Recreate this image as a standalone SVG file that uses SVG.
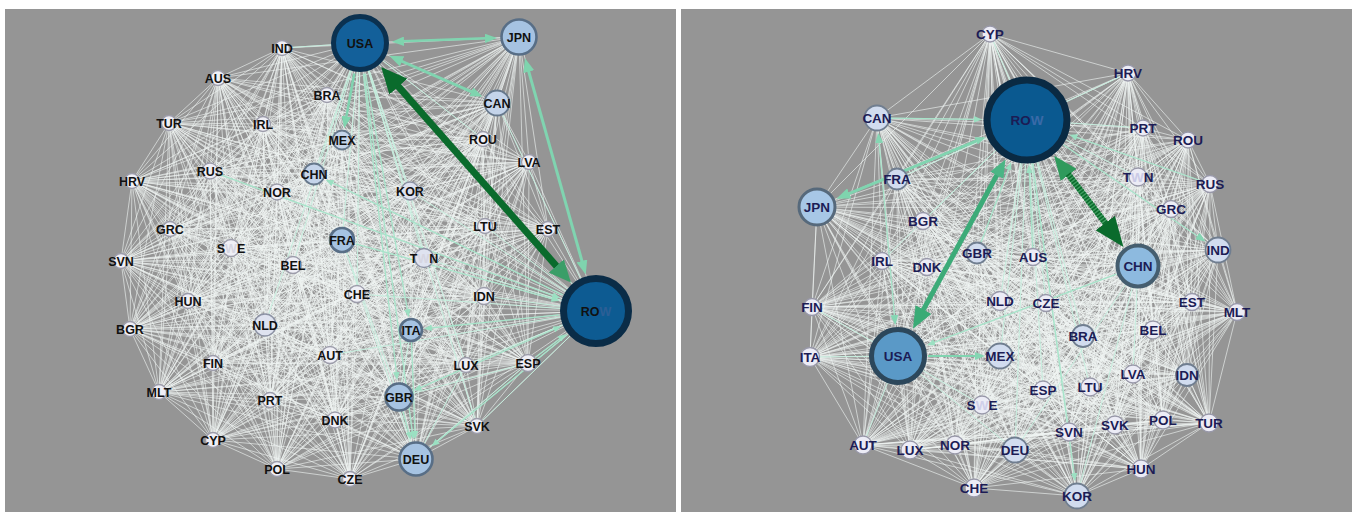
<svg xmlns="http://www.w3.org/2000/svg" width="1352" height="512" viewBox="0 0 1352 512">
<style>
.bg{fill:#959595}
.mesh{fill:none;stroke:#f1f6f4;stroke-width:.62;stroke-linejoin:round;stroke-linecap:round}
.tint{fill:none;stroke:#c2eedc;stroke-width:.9}
.mint{fill:none;stroke:#80d4b0;stroke-linecap:butt}
.thin{fill:none;stroke:#a6e3c9;stroke-width:1.3}
.lp text{font:700 12.5px "Liberation Sans",Arial,sans-serif;fill:#111;text-anchor:middle}
.rp text{font:700 13.5px "Liberation Sans",Arial,sans-serif;fill:#1c1c55;text-anchor:middle}
.s circle{fill:#efeff6;stroke:#9c9caa;stroke-width:1.3}
.l circle{fill:#dfe3f0;stroke:#8c92a4;stroke-width:1.4}
.m circle{fill:#c4d4ea;stroke:#66788c;stroke-width:1.8}
.b circle{fill:#a6c3e2;stroke:#586e86;stroke-width:2.6}
.rs circle{fill:#ececf6;stroke:#9898a9;stroke-width:1.3}
.rm circle{fill:#d1dcef;stroke:#707e90;stroke-width:1.8}
</style>
<defs>
<marker id="ah-dg" markerUnits="userSpaceOnUse" viewBox="0 0 26 24" markerWidth="26" markerHeight="24" refX="1" refY="12" orient="auto-start-reverse"><path d="M0 0L26 12 0 24z" fill="#0a6b2c"/></marker>
<marker id="ah-g" markerUnits="userSpaceOnUse" viewBox="0 0 22 20" markerWidth="22" markerHeight="20" refX="1" refY="10" orient="auto-start-reverse"><path d="M0 0L22 10 0 20z" fill="#3a9e68"/></marker>
<marker id="ah-gr" markerUnits="userSpaceOnUse" viewBox="0 0 22 18" markerWidth="22" markerHeight="18" refX="1" refY="9" orient="auto-start-reverse"><path d="M0 0L22 9 0 18z" fill="#3aab76"/></marker>
<marker id="ah-g2" markerUnits="userSpaceOnUse" viewBox="0 0 18 15" markerWidth="18" markerHeight="15" refX="1" refY="7.5" orient="auto-start-reverse"><path d="M0 0L18 7.5 0 15z" fill="#4bb585"/></marker>
<marker id="ah-dg2" markerUnits="userSpaceOnUse" viewBox="0 0 30 24" markerWidth="30" markerHeight="24" refX="1" refY="12" orient="auto-start-reverse"><path d="M0 0L30 12 0 24z" fill="#0a6b2c"/></marker>
<marker id="ah-g3" markerUnits="userSpaceOnUse" viewBox="0 0 24 20" markerWidth="24" markerHeight="20" refX="1" refY="10" orient="auto-start-reverse"><path d="M0 0L24 10 0 20z" fill="#2f9a5c"/></marker>
<marker id="ah-m14" markerUnits="userSpaceOnUse" viewBox="0 0 14 11" markerWidth="14" markerHeight="11" refX="1" refY="5.5" orient="auto-start-reverse"><path d="M0 0L14 5.5 0 11z" fill="#7fd4ae"/></marker>
<marker id="ah-m12" markerUnits="userSpaceOnUse" viewBox="0 0 12 9.5" markerWidth="12" markerHeight="9.5" refX="1" refY="4.75" orient="auto-start-reverse"><path d="M0 0L12 4.75 0 9.5z" fill="#7fd4ae"/></marker>
<marker id="ah-m10" markerUnits="userSpaceOnUse" viewBox="0 0 10 8" markerWidth="10" markerHeight="8" refX="1" refY="4" orient="auto-start-reverse"><path d="M0 0L10 4 0 8z" fill="#85d6b3"/></marker>
<marker id="ah-m8" markerUnits="userSpaceOnUse" viewBox="0 0 8 6.5" markerWidth="8" markerHeight="6.5" refX="1" refY="3.25" orient="auto-start-reverse"><path d="M0 0L8 3.25 0 6.5z" fill="#9be0c2"/></marker>
</defs>

<rect width="1352" height="512" fill="#fff"/>
<rect class="bg" x="5" y="9" width="671" height="503"/>
<rect class="bg" x="681" y="9" width="671" height="503"/>

<!-- left network -->
<g id="left-panel" class="lp">
<g id="left-connectors">
<path class="mesh" d="M282 48, 218 78, 548 229, 327 95, 485 226, 169 123, 410 191, 263 124, 529 162, 342 140, 483 139, 210 171, 497 103, 132 181, 519 37, 314 174, 360 43, 277 192, 596 311, 170 229, 424 258, 231 248, 484 296, 342 240, 357 294, 121 261, 411 330, 293 265, 528 363, 188 301, 466 365, 130 329, 477 426, 265 325, 399 397, 330 355, 416 459, 213 363, 350 479, 159 392, 277 469, 270 400, 213 440, 335 420
M218 78, 327 95, 282 48, 169 123, 548 229, 263 124, 485 226, 342 140, 410 191, 210 171, 529 162, 132 181, 483 139, 314 174, 497 103, 277 192, 519 37, 170 229, 360 43, 231 248, 596 311, 342 240, 424 258, 121 261, 484 296, 293 265, 357 294, 188 301, 411 330, 130 329, 528 363, 265 325, 466 365, 330 355, 477 426, 213 363, 399 397, 159 392, 416 459, 270 400, 350 479, 335 420, 277 469, 213 440
M327 95, 169 123, 218 78, 263 124, 282 48, 342 140, 548 229, 210 171, 485 226, 132 181, 410 191, 314 174, 529 162, 277 192, 483 139, 170 229, 497 103, 231 248, 519 37, 342 240, 360 43, 121 261, 596 311, 293 265, 424 258, 188 301, 484 296, 130 329, 357 294, 265 325, 411 330, 330 355, 528 363, 213 363, 466 365, 159 392, 477 426, 270 400, 399 397, 335 420, 416 459, 213 440, 350 479, 277 469
M169 123, 263 124, 327 95, 342 140, 218 78, 210 171, 282 48, 132 181, 548 229, 314 174, 485 226, 277 192, 410 191, 170 229, 529 162, 231 248, 483 139, 342 240, 497 103, 121 261, 519 37, 293 265, 360 43, 188 301, 596 311, 130 329, 424 258, 265 325, 484 296, 330 355, 357 294, 213 363, 411 330, 159 392, 528 363, 270 400, 466 365, 335 420, 477 426, 213 440, 399 397, 277 469, 416 459, 350 479
M263 124, 342 140, 169 123, 210 171, 327 95, 132 181, 218 78, 314 174, 282 48, 277 192, 548 229, 170 229, 485 226, 231 248, 410 191, 342 240, 529 162, 121 261, 483 139, 293 265, 497 103, 188 301, 519 37, 130 329, 360 43, 265 325, 596 311, 330 355, 424 258, 213 363, 484 296, 159 392, 357 294, 270 400, 411 330, 335 420, 528 363, 213 440, 466 365, 277 469, 477 426, 350 479, 399 397, 416 459
M342 140, 210 171, 263 124, 132 181, 169 123, 314 174, 327 95, 277 192, 218 78, 170 229, 282 48, 231 248, 548 229, 342 240, 485 226, 121 261, 410 191, 293 265, 529 162, 188 301, 483 139, 130 329, 497 103, 265 325, 519 37, 330 355, 360 43, 213 363, 596 311, 159 392, 424 258, 270 400, 484 296, 335 420, 357 294, 213 440, 411 330, 277 469, 528 363, 350 479, 466 365, 416 459, 477 426, 399 397
M210 171, 132 181, 342 140, 314 174, 263 124, 277 192, 169 123, 170 229, 327 95, 231 248, 218 78, 342 240, 282 48, 121 261, 548 229, 293 265, 485 226, 188 301, 410 191, 130 329, 529 162, 265 325, 483 139, 330 355, 497 103, 213 363, 519 37, 159 392, 360 43, 270 400, 596 311, 335 420, 424 258, 213 440, 484 296, 277 469, 357 294, 350 479, 411 330, 416 459, 528 363, 399 397, 466 365, 477 426
M132 181, 314 174, 210 171, 277 192, 342 140, 170 229, 263 124, 231 248, 169 123, 342 240, 327 95, 121 261, 218 78, 293 265, 282 48, 188 301, 548 229, 130 329, 485 226, 265 325, 410 191, 330 355, 529 162, 213 363, 483 139, 159 392, 497 103, 270 400, 519 37, 335 420, 360 43, 213 440, 596 311, 277 469, 424 258, 350 479, 484 296, 416 459, 357 294, 399 397, 411 330, 477 426, 528 363, 466 365
M314 174, 277 192, 132 181, 170 229, 210 171, 231 248, 342 140, 342 240, 263 124, 121 261, 169 123, 293 265, 327 95, 188 301, 218 78, 130 329, 282 48, 265 325, 548 229, 330 355, 485 226, 213 363, 410 191, 159 392, 529 162, 270 400, 483 139, 335 420, 497 103, 213 440, 519 37, 277 469, 360 43, 350 479, 596 311, 416 459, 424 258, 399 397, 484 296, 477 426, 357 294, 466 365, 411 330, 528 363
M277 192, 170 229, 314 174, 231 248, 132 181, 342 240, 210 171, 121 261, 342 140, 293 265, 263 124, 188 301, 169 123, 130 329, 327 95, 265 325, 218 78, 330 355, 282 48, 213 363, 548 229, 159 392, 485 226, 270 400, 410 191, 335 420, 529 162, 213 440, 483 139, 277 469, 497 103, 350 479, 519 37, 416 459, 360 43, 399 397, 596 311, 477 426, 424 258, 466 365, 484 296, 528 363, 357 294, 411 330
M170 229, 231 248, 277 192, 342 240, 314 174, 121 261, 132 181, 293 265, 210 171, 188 301, 342 140, 130 329, 263 124, 265 325, 169 123, 330 355, 327 95, 213 363, 218 78, 159 392, 282 48, 270 400, 548 229, 335 420, 485 226, 213 440, 410 191, 277 469, 529 162, 350 479, 483 139, 416 459, 497 103, 399 397, 519 37, 477 426, 360 43, 466 365, 596 311, 528 363, 424 258, 411 330, 484 296, 357 294
M231 248, 342 240, 170 229, 121 261, 277 192, 293 265, 314 174, 188 301, 132 181, 130 329, 210 171, 265 325, 342 140, 330 355, 263 124, 213 363, 169 123, 159 392, 327 95, 270 400, 218 78, 335 420, 282 48, 213 440, 548 229, 277 469, 485 226, 350 479, 410 191, 416 459, 529 162, 399 397, 483 139, 477 426, 497 103, 466 365, 519 37, 528 363, 360 43, 411 330, 596 311, 357 294, 424 258, 484 296
M342 240, 121 261, 231 248, 293 265, 170 229, 188 301, 277 192, 130 329, 314 174, 265 325, 132 181, 330 355, 210 171, 213 363, 342 140, 159 392, 263 124, 270 400, 169 123, 335 420, 327 95, 213 440, 218 78, 277 469, 282 48, 350 479, 548 229, 416 459, 485 226, 399 397, 410 191, 477 426, 529 162, 466 365, 483 139, 528 363, 497 103, 411 330, 519 37, 357 294, 360 43, 484 296, 596 311, 424 258
M121 261, 293 265, 342 240, 188 301, 231 248, 130 329, 170 229, 265 325, 277 192, 330 355, 314 174, 213 363, 132 181, 159 392, 210 171, 270 400, 342 140, 335 420, 263 124, 213 440, 169 123, 277 469, 327 95, 350 479, 218 78, 416 459, 282 48, 399 397, 548 229, 477 426, 485 226, 466 365, 410 191, 528 363, 529 162, 411 330, 483 139, 357 294, 497 103, 484 296, 519 37, 424 258, 360 43, 596 311
M293 265, 188 301, 121 261, 130 329, 342 240, 265 325, 231 248, 330 355, 170 229, 213 363, 277 192, 159 392, 314 174, 270 400, 132 181, 335 420, 210 171, 213 440, 342 140, 277 469, 263 124, 350 479, 169 123, 416 459, 327 95, 399 397, 218 78, 477 426, 282 48, 466 365, 548 229, 528 363, 485 226, 411 330, 410 191, 357 294, 529 162, 484 296, 483 139, 424 258, 497 103, 596 311, 519 37, 360 43
M188 301, 130 329, 293 265, 265 325, 121 261, 330 355, 342 240, 213 363, 231 248, 159 392, 170 229, 270 400, 277 192, 335 420, 314 174, 213 440, 132 181, 277 469, 210 171, 350 479, 342 140, 416 459, 263 124, 399 397, 169 123, 477 426, 327 95, 466 365, 218 78, 528 363, 282 48, 411 330, 548 229, 357 294, 485 226, 484 296, 410 191, 424 258, 529 162, 596 311, 483 139, 360 43, 497 103, 519 37
M130 329, 265 325, 188 301, 330 355, 293 265, 213 363, 121 261, 159 392, 342 240, 270 400, 231 248, 335 420, 170 229, 213 440, 277 192, 277 469, 314 174, 350 479, 132 181, 416 459, 210 171, 399 397, 342 140, 477 426, 263 124, 466 365, 169 123, 528 363, 327 95, 411 330, 218 78, 357 294, 282 48, 484 296, 548 229, 424 258, 485 226, 596 311, 410 191, 360 43, 529 162, 519 37, 483 139, 497 103
M265 325, 330 355, 130 329, 213 363, 188 301, 159 392, 293 265, 270 400, 121 261, 335 420, 342 240, 213 440, 231 248, 277 469, 170 229, 350 479, 277 192, 416 459, 314 174, 399 397, 132 181, 477 426, 210 171, 466 365, 342 140, 528 363, 263 124, 411 330, 169 123, 357 294, 327 95, 484 296, 218 78, 424 258, 282 48, 596 311, 548 229, 360 43, 485 226, 519 37, 410 191, 497 103, 529 162, 483 139
M330 355, 213 363, 265 325, 159 392, 130 329, 270 400, 188 301, 335 420, 293 265, 213 440, 121 261, 277 469, 342 240, 350 479, 231 248, 416 459, 170 229, 399 397, 277 192, 477 426, 314 174, 466 365, 132 181, 528 363, 210 171, 411 330, 342 140, 357 294, 263 124, 484 296, 169 123, 424 258, 327 95, 596 311, 218 78, 360 43, 282 48, 519 37, 548 229, 497 103, 485 226, 483 139, 410 191, 529 162
M213 363, 159 392, 330 355, 270 400, 265 325, 335 420, 130 329, 213 440, 188 301, 277 469, 293 265, 350 479, 121 261, 416 459, 342 240, 399 397, 231 248, 477 426, 170 229, 466 365, 277 192, 528 363, 314 174, 411 330, 132 181, 357 294, 210 171, 484 296, 342 140, 424 258, 263 124, 596 311, 169 123, 360 43, 327 95, 519 37, 218 78, 497 103, 282 48, 483 139, 548 229, 529 162, 485 226, 410 191
M159 392, 270 400, 213 363, 335 420, 330 355, 213 440, 265 325, 277 469, 130 329, 350 479, 188 301, 416 459, 293 265, 399 397, 121 261, 477 426, 342 240, 466 365, 231 248, 528 363, 170 229, 411 330, 277 192, 357 294, 314 174, 484 296, 132 181, 424 258, 210 171, 596 311, 342 140, 360 43, 263 124, 519 37, 169 123, 497 103, 327 95, 483 139, 218 78, 529 162, 282 48, 410 191, 548 229, 485 226
M270 400, 335 420, 159 392, 213 440, 213 363, 277 469, 330 355, 350 479, 265 325, 416 459, 130 329, 399 397, 188 301, 477 426, 293 265, 466 365, 121 261, 528 363, 342 240, 411 330, 231 248, 357 294, 170 229, 484 296, 277 192, 424 258, 314 174, 596 311, 132 181, 360 43, 210 171, 519 37, 342 140, 497 103, 263 124, 483 139, 169 123, 529 162, 327 95, 410 191, 218 78, 485 226, 282 48, 548 229"/>
<path class="tint" d="M360 43L265 325M360 43L357 294M360 43L466 365M360 43L477 426M360 43L596 311M360 43L342 240M360 43L410 191M360 43L314 174M360 43L424 258M416 459L528 363M416 459L466 365M399 397L528 363M342 240L399 397M342 240L416 459M411 330L399 397M596 311L424 258M596 311L484 296M596 311L485 226M596 311L410 191M596 311L357 294M596 311L330 355M596 311L477 426M596 311L466 365M596 311L497 103M282 48L360 43M360 43L483 139M360 43L293 265"/>
<!-- thin highlighted flows -->
<path class="thin" marker-end="url(#ah-m8)" d="M562.7 294.8L332 182.7"/>
<path class="thin" marker-end="url(#ah-m8)" d="M559.2 314.8L430.9 328"/>
<path class="thin" marker-start="url(#ah-m8)" marker-end="url(#ah-m8)" d="M420 387.8L554.8 329"/>
<path class="thin" marker-end="url(#ah-m8)" d="M535.1 357.5L560.2 338.4"/>
<path class="thin" marker-end="url(#ah-m8)" d="M567.4 334.5L436.9 441.8"/>
<path class="thin" marker-end="url(#ah-m8)" d="M364.1 73.7L412.4 432.3"/>
<path class="thin" marker-end="url(#ah-m8)" d="M403 411.5L408.9 433"/>
<path class="thin" marker-end="url(#ah-m8)" d="M411.5 342L415 432"/>
<path class="thin" marker-end="url(#ah-m8)" d="M363.4 73.8L396.4 373.1"/>
<path class="thin" marker-end="url(#ah-m8)" d="M365.4 73.5L407.5 310.3"/>
<path class="thin" marker-end="url(#ah-m8)" d="M355.5 243.8L552.7 298.8"/>
<path class="thin" marker-end="url(#ah-m8)" d="M218.5 174.1L553.7 295.7"/>
<!-- main flows -->
<path class="mint" stroke-width="2.5" marker-end="url(#ah-m12)" d="M354.3 73.5L346.2 117.4"/>
<path class="mint" stroke-width="2.5" marker-start="url(#ah-m12)" marker-end="url(#ah-m12)" d="M403 41.3L486 38.3"/>
<path class="mint" stroke-width="3" marker-start="url(#ah-m14)" marker-end="url(#ah-m12)" d="M401.2 61L472.3 92.2"/>
<path class="mint" stroke-width="3" marker-start="url(#ah-m14)" marker-end="url(#ah-m14)" d="M528.5 70.7L582.2 261.9"/>
<path fill="none" stroke="#0a6b2c" stroke-width="7" marker-start="url(#ah-dg)" marker-end="url(#ah-g)" d="M397.7 85.8L557 266.7"/>
</g>

<g id="l-ind" class="s"><circle cx="282" cy="48" r="7.5"/><text x="282" y="52.5">IND</text></g>
<g id="l-aus" class="s"><circle cx="218" cy="78" r="7.5"/><text x="218" y="82.5">AUS</text></g>
<g id="l-bra" class="s"><circle cx="327" cy="95" r="7.5"/><text x="327" y="99.5">BRA</text></g>
<g id="l-tur" class="s"><circle cx="169" cy="123" r="7.5"/><text x="169" y="127.5">TUR</text></g>
<g id="l-irl" class="s"><circle cx="263" cy="124" r="7.5"/><text x="263" y="128.5">IRL</text></g>
<g id="l-mex" class="m"><circle cx="342" cy="140" r="9.5"/><text x="342" y="144.5">MEX</text></g>
<g id="l-rus" class="s"><circle cx="210" cy="171" r="8"/><text x="210" y="175.5">RUS</text></g>
<g id="l-hrv" class="s"><circle cx="132" cy="181" r="7.5"/><text x="132" y="185.5">HRV</text></g>
<g id="l-chn" class="m"><circle cx="314" cy="174" r="10.5" stroke-width="2"/><text x="314" y="178.5">CHN</text></g>
<g id="l-nor" class="s"><circle cx="277" cy="192" r="8"/><text x="277" y="196.5">NOR</text></g>
<g id="l-grc" class="s"><circle cx="170" cy="229" r="7.5"/><text x="170" y="233.5">GRC</text></g>
<g id="l-swe" class="s"><circle cx="231" cy="248" r="8.5"/><text x="231" y="252.5">S<tspan fill="#d6d6e2">W</tspan>E</text></g>
<g id="l-fra" class="b"><circle cx="342" cy="240" r="12"/><text x="342" y="244.5">FRA</text></g>
<g id="l-svn" class="s"><circle cx="121" cy="261" r="7.5"/><text x="121" y="265.5">SVN</text></g>
<g id="l-bel" class="s"><circle cx="293" cy="265" r="8.5"/><text x="293" y="269.5">BEL</text></g>
<g id="l-hun" class="s"><circle cx="188" cy="301" r="7.5"/><text x="188" y="305.5">HUN</text></g>
<g id="l-bgr" class="s"><circle cx="130" cy="329" r="7.5"/><text x="130" y="333.5">BGR</text></g>
<g id="l-nld" class="l"><circle cx="265" cy="325" r="11"/><text x="265" y="329.5">NLD</text></g>
<g id="l-aut" class="s"><circle cx="330" cy="355" r="8.5"/><text x="330" y="359.5">AUT</text></g>
<g id="l-fin" class="s"><circle cx="213" cy="363" r="7.5"/><text x="213" y="367.5">FIN</text></g>
<g id="l-mlt" class="s"><circle cx="159" cy="392" r="7.5"/><text x="159" y="396.5">MLT</text></g>
<g id="l-prt" class="s"><circle cx="270" cy="400" r="7.5"/><text x="270" y="404.5">PRT</text></g>
<g id="l-dnk" class="s"><circle cx="335" cy="420" r="8"/><text x="335" y="424.5">DNK</text></g>
<g id="l-cyp" class="s"><circle cx="213" cy="440" r="7.5"/><text x="213" y="444.5">CYP</text></g>
<g id="l-pol" class="s"><circle cx="277" cy="469" r="7.5"/><text x="277" y="473.5">POL</text></g>
<g id="l-cze" class="s"><circle cx="350" cy="479" r="7.5"/><text x="350" y="483.5">CZE</text></g>
<g id="l-deu" class="b"><circle cx="416" cy="459" r="16.5" stroke-width="3"/><text x="416" y="463.5">DEU</text></g>
<g id="l-gbr" class="b"><circle cx="399" cy="397" r="13.5" stroke-width="3"/><text x="399" y="401.5">GBR</text></g>
<g id="l-svk" class="s"><circle cx="477" cy="426" r="7.5"/><text x="477" y="430.5">SVK</text></g>
<g id="l-lux" class="s"><circle cx="466" cy="365" r="7.5"/><text x="466" y="369.5">LUX</text></g>
<g id="l-esp" class="s"><circle cx="528" cy="363" r="8.5"/><text x="528" y="367.5">ESP</text></g>
<g id="l-ita" class="b"><circle cx="411" cy="330" r="11"/><text x="411" y="334.5">ITA</text></g>
<g id="l-che" class="s"><circle cx="357" cy="294" r="8.5"/><text x="357" y="298.5">CHE</text></g>
<g id="l-idn" class="s"><circle cx="484" cy="296" r="8.5"/><text x="484" y="300.5">IDN</text></g>
<g id="l-twn" class="l"><circle cx="424" cy="258" r="9.5"/><text x="424" y="262.5">T<tspan fill="#d6d6e2">W</tspan>N</text></g>
<g id="l-row"><circle cx="596" cy="311" r="32.5" fill="#0d5b92" stroke="#0a2c47" stroke-width="7"/><text x="596" y="315.5">RO<tspan fill="#2b5f96">W</tspan></text></g>
<g id="l-usa"><circle cx="360" cy="43" r="26.5" fill="#13609a" stroke="#0b3150" stroke-width="5"/><text x="360" y="47.5">USA</text></g>
<g id="l-jpn" class="b"><circle cx="519" cy="37" r="17.5" stroke-width="3"/><text x="519" y="41.5">JPN</text></g>
<g id="l-can" class="m"><circle cx="497" cy="103" r="12.5" stroke-width="2"/><text x="497" y="107.5">CAN</text></g>
<g id="l-rou" class="s"><circle cx="483" cy="139" r="7.5"/><text x="483" y="143.5">ROU</text></g>
<g id="l-lva" class="s"><circle cx="529" cy="162" r="7.5"/><text x="529" y="166.5">LVA</text></g>
<g id="l-kor" class="l"><circle cx="410" cy="191" r="9"/><text x="410" y="195.5">KOR</text></g>
<g id="l-ltu" class="s"><circle cx="485" cy="226" r="7.5"/><text x="485" y="230.5">LTU</text></g>
<g id="l-est" class="s"><circle cx="548" cy="229" r="7.5"/><text x="548" y="233.5">EST</text></g>
</g>

<!-- right network -->
<g id="right-panel" class="rp">
<g id="right-connectors">
<path class="mesh" d="M990 34, 877 118, 1077 496, 1027 120, 1141 469, 1128 73, 974 488, 1143 128, 1015 450, 1188 140, 955 445, 1138 177, 910 450, 1210 184, 863 445, 1171 209, 1069 432, 1218 250, 1115 425, 897 179, 1209 423, 817 207, 1163 420, 923 221, 982 405, 977 253, 1090 387, 882 261, 1043 390, 927 267, 1187 375, 1138 266, 1133 374, 1033 257, 1000 356, 812 307, 898 356, 1000 301, 810 357, 1046 303, 1153 330, 1192 302, 1083 336, 1237 312
M877 118, 1027 120, 990 34, 1128 73, 1077 496, 1143 128, 1141 469, 1188 140, 974 488, 1138 177, 1015 450, 1210 184, 955 445, 1171 209, 910 450, 1218 250, 863 445, 897 179, 1069 432, 817 207, 1115 425, 923 221, 1209 423, 977 253, 1163 420, 882 261, 982 405, 927 267, 1090 387, 1138 266, 1043 390, 1033 257, 1187 375, 812 307, 1133 374, 1000 301, 1000 356, 1046 303, 898 356, 1192 302, 810 357, 1237 312, 1153 330, 1083 336
M1027 120, 1128 73, 877 118, 1143 128, 990 34, 1188 140, 1077 496, 1138 177, 1141 469, 1210 184, 974 488, 1171 209, 1015 450, 1218 250, 955 445, 897 179, 910 450, 817 207, 863 445, 923 221, 1069 432, 977 253, 1115 425, 882 261, 1209 423, 927 267, 1163 420, 1138 266, 982 405, 1033 257, 1090 387, 812 307, 1043 390, 1000 301, 1187 375, 1046 303, 1133 374, 1192 302, 1000 356, 1237 312, 898 356, 1083 336, 810 357, 1153 330
M1128 73, 1143 128, 1027 120, 1188 140, 877 118, 1138 177, 990 34, 1210 184, 1077 496, 1171 209, 1141 469, 1218 250, 974 488, 897 179, 1015 450, 817 207, 955 445, 923 221, 910 450, 977 253, 863 445, 882 261, 1069 432, 927 267, 1115 425, 1138 266, 1209 423, 1033 257, 1163 420, 812 307, 982 405, 1000 301, 1090 387, 1046 303, 1043 390, 1192 302, 1187 375, 1237 312, 1133 374, 1083 336, 1000 356, 1153 330, 898 356, 810 357
M1143 128, 1188 140, 1128 73, 1138 177, 1027 120, 1210 184, 877 118, 1171 209, 990 34, 1218 250, 1077 496, 897 179, 1141 469, 817 207, 974 488, 923 221, 1015 450, 977 253, 955 445, 882 261, 910 450, 927 267, 863 445, 1138 266, 1069 432, 1033 257, 1115 425, 812 307, 1209 423, 1000 301, 1163 420, 1046 303, 982 405, 1192 302, 1090 387, 1237 312, 1043 390, 1083 336, 1187 375, 1153 330, 1133 374, 810 357, 1000 356, 898 356
M1188 140, 1138 177, 1143 128, 1210 184, 1128 73, 1171 209, 1027 120, 1218 250, 877 118, 897 179, 990 34, 817 207, 1077 496, 923 221, 1141 469, 977 253, 974 488, 882 261, 1015 450, 927 267, 955 445, 1138 266, 910 450, 1033 257, 863 445, 812 307, 1069 432, 1000 301, 1115 425, 1046 303, 1209 423, 1192 302, 1163 420, 1237 312, 982 405, 1083 336, 1090 387, 1153 330, 1043 390, 810 357, 1187 375, 898 356, 1133 374, 1000 356
M1138 177, 1210 184, 1188 140, 1171 209, 1143 128, 1218 250, 1128 73, 897 179, 1027 120, 817 207, 877 118, 923 221, 990 34, 977 253, 1077 496, 882 261, 1141 469, 927 267, 974 488, 1138 266, 1015 450, 1033 257, 955 445, 812 307, 910 450, 1000 301, 863 445, 1046 303, 1069 432, 1192 302, 1115 425, 1237 312, 1209 423, 1083 336, 1163 420, 1153 330, 982 405, 810 357, 1090 387, 898 356, 1043 390, 1000 356, 1187 375, 1133 374
M1210 184, 1171 209, 1138 177, 1218 250, 1188 140, 897 179, 1143 128, 817 207, 1128 73, 923 221, 1027 120, 977 253, 877 118, 882 261, 990 34, 927 267, 1077 496, 1138 266, 1141 469, 1033 257, 974 488, 812 307, 1015 450, 1000 301, 955 445, 1046 303, 910 450, 1192 302, 863 445, 1237 312, 1069 432, 1083 336, 1115 425, 1153 330, 1209 423, 810 357, 1163 420, 898 356, 982 405, 1000 356, 1090 387, 1133 374, 1043 390, 1187 375
M1171 209, 1218 250, 1210 184, 897 179, 1138 177, 817 207, 1188 140, 923 221, 1143 128, 977 253, 1128 73, 882 261, 1027 120, 927 267, 877 118, 1138 266, 990 34, 1033 257, 1077 496, 812 307, 1141 469, 1000 301, 974 488, 1046 303, 1015 450, 1192 302, 955 445, 1237 312, 910 450, 1083 336, 863 445, 1153 330, 1069 432, 810 357, 1115 425, 898 356, 1209 423, 1000 356, 1163 420, 1133 374, 982 405, 1187 375, 1090 387, 1043 390
M1218 250, 897 179, 1171 209, 817 207, 1210 184, 923 221, 1138 177, 977 253, 1188 140, 882 261, 1143 128, 927 267, 1128 73, 1138 266, 1027 120, 1033 257, 877 118, 812 307, 990 34, 1000 301, 1077 496, 1046 303, 1141 469, 1192 302, 974 488, 1237 312, 1015 450, 1083 336, 955 445, 1153 330, 910 450, 810 357, 863 445, 898 356, 1069 432, 1000 356, 1115 425, 1133 374, 1209 423, 1187 375, 1163 420, 1043 390, 982 405, 1090 387
M897 179, 817 207, 1218 250, 923 221, 1171 209, 977 253, 1210 184, 882 261, 1138 177, 927 267, 1188 140, 1138 266, 1143 128, 1033 257, 1128 73, 812 307, 1027 120, 1000 301, 877 118, 1046 303, 990 34, 1192 302, 1077 496, 1237 312, 1141 469, 1083 336, 974 488, 1153 330, 1015 450, 810 357, 955 445, 898 356, 910 450, 1000 356, 863 445, 1133 374, 1069 432, 1187 375, 1115 425, 1043 390, 1209 423, 1090 387, 1163 420, 982 405
M817 207, 923 221, 897 179, 977 253, 1218 250, 882 261, 1171 209, 927 267, 1210 184, 1138 266, 1138 177, 1033 257, 1188 140, 812 307, 1143 128, 1000 301, 1128 73, 1046 303, 1027 120, 1192 302, 877 118, 1237 312, 990 34, 1083 336, 1077 496, 1153 330, 1141 469, 810 357, 974 488, 898 356, 1015 450, 1000 356, 955 445, 1133 374, 910 450, 1187 375, 863 445, 1043 390, 1069 432, 1090 387, 1115 425, 982 405, 1209 423, 1163 420
M923 221, 977 253, 817 207, 882 261, 897 179, 927 267, 1218 250, 1138 266, 1171 209, 1033 257, 1210 184, 812 307, 1138 177, 1000 301, 1188 140, 1046 303, 1143 128, 1192 302, 1128 73, 1237 312, 1027 120, 1083 336, 877 118, 1153 330, 990 34, 810 357, 1077 496, 898 356, 1141 469, 1000 356, 974 488, 1133 374, 1015 450, 1187 375, 955 445, 1043 390, 910 450, 1090 387, 863 445, 982 405, 1069 432, 1163 420, 1115 425, 1209 423
M977 253, 882 261, 923 221, 927 267, 817 207, 1138 266, 897 179, 1033 257, 1218 250, 812 307, 1171 209, 1000 301, 1210 184, 1046 303, 1138 177, 1192 302, 1188 140, 1237 312, 1143 128, 1083 336, 1128 73, 1153 330, 1027 120, 810 357, 877 118, 898 356, 990 34, 1000 356, 1077 496, 1133 374, 1141 469, 1187 375, 974 488, 1043 390, 1015 450, 1090 387, 955 445, 982 405, 910 450, 1163 420, 863 445, 1209 423, 1069 432, 1115 425
M882 261, 927 267, 977 253, 1138 266, 923 221, 1033 257, 817 207, 812 307, 897 179, 1000 301, 1218 250, 1046 303, 1171 209, 1192 302, 1210 184, 1237 312, 1138 177, 1083 336, 1188 140, 1153 330, 1143 128, 810 357, 1128 73, 898 356, 1027 120, 1000 356, 877 118, 1133 374, 990 34, 1187 375, 1077 496, 1043 390, 1141 469, 1090 387, 974 488, 982 405, 1015 450, 1163 420, 955 445, 1209 423, 910 450, 1115 425, 863 445, 1069 432
M927 267, 1138 266, 882 261, 1033 257, 977 253, 812 307, 923 221, 1000 301, 817 207, 1046 303, 897 179, 1192 302, 1218 250, 1237 312, 1171 209, 1083 336, 1210 184, 1153 330, 1138 177, 810 357, 1188 140, 898 356, 1143 128, 1000 356, 1128 73, 1133 374, 1027 120, 1187 375, 877 118, 1043 390, 990 34, 1090 387, 1077 496, 982 405, 1141 469, 1163 420, 974 488, 1209 423, 1015 450, 1115 425, 955 445, 1069 432, 910 450, 863 445
M1138 266, 1033 257, 927 267, 812 307, 882 261, 1000 301, 977 253, 1046 303, 923 221, 1192 302, 817 207, 1237 312, 897 179, 1083 336, 1218 250, 1153 330, 1171 209, 810 357, 1210 184, 898 356, 1138 177, 1000 356, 1188 140, 1133 374, 1143 128, 1187 375, 1128 73, 1043 390, 1027 120, 1090 387, 877 118, 982 405, 990 34, 1163 420, 1077 496, 1209 423, 1141 469, 1115 425, 974 488, 1069 432, 1015 450, 863 445, 955 445, 910 450
M1033 257, 812 307, 1138 266, 1000 301, 927 267, 1046 303, 882 261, 1192 302, 977 253, 1237 312, 923 221, 1083 336, 817 207, 1153 330, 897 179, 810 357, 1218 250, 898 356, 1171 209, 1000 356, 1210 184, 1133 374, 1138 177, 1187 375, 1188 140, 1043 390, 1143 128, 1090 387, 1128 73, 982 405, 1027 120, 1163 420, 877 118, 1209 423, 990 34, 1115 425, 1077 496, 1069 432, 1141 469, 863 445, 974 488, 910 450, 1015 450, 955 445
M812 307, 1000 301, 1033 257, 1046 303, 1138 266, 1192 302, 927 267, 1237 312, 882 261, 1083 336, 977 253, 1153 330, 923 221, 810 357, 817 207, 898 356, 897 179, 1000 356, 1218 250, 1133 374, 1171 209, 1187 375, 1210 184, 1043 390, 1138 177, 1090 387, 1188 140, 982 405, 1143 128, 1163 420, 1128 73, 1209 423, 1027 120, 1115 425, 877 118, 1069 432, 990 34, 863 445, 1077 496, 910 450, 1141 469, 955 445, 974 488, 1015 450
M1000 301, 1046 303, 812 307, 1192 302, 1033 257, 1237 312, 1138 266, 1083 336, 927 267, 1153 330, 882 261, 810 357, 977 253, 898 356, 923 221, 1000 356, 817 207, 1133 374, 897 179, 1187 375, 1218 250, 1043 390, 1171 209, 1090 387, 1210 184, 982 405, 1138 177, 1163 420, 1188 140, 1209 423, 1143 128, 1115 425, 1128 73, 1069 432, 1027 120, 863 445, 877 118, 910 450, 990 34, 955 445, 1077 496, 1015 450, 1141 469, 974 488
M1046 303, 1192 302, 1000 301, 1237 312, 812 307, 1083 336, 1033 257, 1153 330, 1138 266, 810 357, 927 267, 898 356, 882 261, 1000 356, 977 253, 1133 374, 923 221, 1187 375, 817 207, 1043 390, 897 179, 1090 387, 1218 250, 982 405, 1171 209, 1163 420, 1210 184, 1209 423, 1138 177, 1115 425, 1188 140, 1069 432, 1143 128, 863 445, 1128 73, 910 450, 1027 120, 955 445, 877 118, 1015 450, 990 34, 974 488, 1077 496, 1141 469
M1192 302, 1237 312, 1046 303, 1083 336, 1000 301, 1153 330, 812 307, 810 357, 1033 257, 898 356, 1138 266, 1000 356, 927 267, 1133 374, 882 261, 1187 375, 977 253, 1043 390, 923 221, 1090 387, 817 207, 982 405, 897 179, 1163 420, 1218 250, 1209 423, 1171 209, 1115 425, 1210 184, 1069 432, 1138 177, 863 445, 1188 140, 910 450, 1143 128, 955 445, 1128 73, 1015 450, 1027 120, 974 488, 877 118, 1141 469, 990 34, 1077 496"/>
<path class="tint" d="M1027 120L1015 450M1027 120L1000 356M1027 120L1000 301M1027 120L1046 303M1138 266L1077 496M1138 266L1015 450M1138 266L1133 374M898 356L810 357M898 356L812 307M898 356L1015 450M898 356L863 445M898 356L982 405M1027 120L897 179M1027 120L923 221M1027 120L882 261M1027 120L1138 177M1027 120L1143 128M1027 120L1128 73M1027 120L990 34M1027 120L1069 432M1027 120L1083 336M1027 120L1090 387M1027 120L1043 390"/>
<!-- thin highlighted flows -->
<path class="thin" stroke-width="1.8" marker-end="url(#ah-m8)" d="M891 118.2L975 119.3"/>
<path class="thin" stroke-width="1.8" marker-start="url(#ah-m10)" marker-end="url(#ah-m10)" d="M879.1 142L894.5 316.1"/>
<path class="thin" stroke-width="1.8" marker-end="url(#ah-m8)" d="M1201.5 181L1076 137.1"/>
<path class="thin" stroke-width="1.6" marker-end="url(#ah-m10)" d="M1063.4 144.8L1198.1 236.5"/>
<path class="thin" marker-end="url(#ah-m8)" d="M1116.5 274.1L933.6 342.7"/>
<path class="thin" marker-end="url(#ah-m8)" d="M1032.8 163.6L1074.1 474.2"/>
<path class="thin" marker-end="url(#ah-m8)" d="M1032.6 248L1029.3 172"/>
<path class="thin" marker-end="url(#ah-m8)" d="M980.9 242.7L1008.7 168.7"/>
<!-- main flows -->
<path class="mint" stroke-width="2" marker-end="url(#ah-m10)" d="M928 356L976 356"/>
<path class="mint" stroke-width="3" marker-start="url(#ah-m14)" marker-end="url(#ah-m10)" d="M848.4 193.9L977.1 140.6"/>
<path fill="none" stroke="#3cab78" stroke-width="5" marker-start="url(#ah-gr)" marker-end="url(#ah-g2)" d="M923 310.4L997.3 174.4"/>
<path fill="none" stroke="#3f9d60" stroke-width="6" marker-start="url(#ah-g3)" marker-end="url(#ah-dg2)" d="M1068.1 174.1L1105.9 223.8"/>
<path fill="none" stroke="#0a6b2c" stroke-width="6" stroke-dasharray="1.6 1.4" d="M1068.1 174.1L1105.9 223.8"/>
</g>

<g id="r-cyp" class="rs"><circle cx="990" cy="34" r="8"/><text x="990" y="39">CYP</text></g>
<g id="r-can" class="rm"><circle cx="877" cy="118" r="12.5" stroke-width="2"/><text x="877" y="123">CAN</text></g>
<g id="r-hrv" class="rs"><circle cx="1128" cy="73" r="8"/><text x="1128" y="78">HRV</text></g>
<g id="r-prt" class="rs"><circle cx="1143" cy="128" r="8"/><text x="1143" y="133">PRT</text></g>
<g id="r-rou" class="rs"><circle cx="1188" cy="140" r="8"/><text x="1188" y="145">ROU</text></g>
<g id="r-twn" class="rs"><circle cx="1138" cy="177" r="9"/><text x="1138" y="182">T<tspan fill="#cacae6">W</tspan>N</text></g>
<g id="r-rus" class="rs"><circle cx="1210" cy="184" r="8.5"/><text x="1210" y="189">RUS</text></g>
<g id="r-grc" class="rs"><circle cx="1171" cy="209" r="8.5"/><text x="1171" y="214">GRC</text></g>
<g id="r-ind" class="rm"><circle cx="1218" cy="250" r="12.5" stroke-width="2"/><text x="1218" y="255">IND</text></g>
<g id="r-fra" class="rm"><circle cx="897" cy="179" r="10.5"/><text x="897" y="184">FRA</text></g>
<g id="r-jpn"><circle cx="817" cy="207" r="18" fill="#a7c7e6" stroke="#56697b" stroke-width="3"/><text x="817" y="212">JPN</text></g>
<g id="r-bgr" class="rs"><circle cx="923" cy="221" r="8.5"/><text x="923" y="226">BGR</text></g>
<g id="r-gbr" class="rm"><circle cx="977" cy="253" r="10.5"/><text x="977" y="258">GBR</text></g>
<g id="r-irl" class="rs"><circle cx="882" cy="261" r="8.5"/><text x="882" y="266">IRL</text></g>
<g id="r-dnk" class="rs"><circle cx="927" cy="267" r="8.5"/><text x="927" y="272">DNK</text></g>
<g id="r-chn"><circle cx="1138" cy="266" r="20.5" fill="#8dbadf" stroke="#455e6f" stroke-width="4"/><text x="1138" y="271">CHN</text></g>
<g id="r-aus" class="rs"><circle cx="1033" cy="257" r="8.5"/><text x="1033" y="262">AUS</text></g>
<g id="r-fin" class="rs"><circle cx="812" cy="307" r="8.5"/><text x="812" y="312">FIN</text></g>
<g id="r-nld" class="rs"><circle cx="1000" cy="301" r="9.5"/><text x="1000" y="306">NLD</text></g>
<g id="r-cze" class="rs"><circle cx="1046" cy="303" r="8.5"/><text x="1046" y="308">CZE</text></g>
<g id="r-est" class="rs"><circle cx="1192" cy="302" r="8.5"/><text x="1192" y="307">EST</text></g>
<g id="r-mlt" class="rs"><circle cx="1237" cy="312" r="8.5"/><text x="1237" y="317">MLT</text></g>
<g id="r-bra" class="rm"><circle cx="1083" cy="336" r="11"/><text x="1083" y="341">BRA</text></g>
<g id="r-bel" class="rs"><circle cx="1153" cy="330" r="9"/><text x="1153" y="335">BEL</text></g>
<g id="r-ita" class="rs"><circle cx="810" cy="357" r="9.5"/><text x="810" y="362">ITA</text></g>
<g id="r-usa"><circle cx="898" cy="356" r="26.5" fill="#5a99c7" stroke="#2c475b" stroke-width="5"/><text x="898" y="361">USA</text></g>
<g id="r-mex" class="rm"><circle cx="1000" cy="356" r="12.5" stroke-width="2"/><text x="1000" y="361">MEX</text></g>
<g id="r-lva" class="rs"><circle cx="1133" cy="374" r="9"/><text x="1133" y="379">LVA</text></g>
<g id="r-idn" class="rm"><circle cx="1187" cy="375" r="11"/><text x="1187" y="380">IDN</text></g>
<g id="r-esp" class="rs"><circle cx="1043" cy="390" r="9"/><text x="1043" y="395">ESP</text></g>
<g id="r-ltu" class="rs"><circle cx="1090" cy="387" r="9"/><text x="1090" y="392">LTU</text></g>
<g id="r-swe" class="rs"><circle cx="982" cy="405" r="9"/><text x="982" y="410">S<tspan fill="#d0d0ea">W</tspan>E</text></g>
<g id="r-pol" class="rs"><circle cx="1163" cy="420" r="9"/><text x="1163" y="425">POL</text></g>
<g id="r-tur" class="rs"><circle cx="1209" cy="423" r="9"/><text x="1209" y="428">TUR</text></g>
<g id="r-svk" class="rs"><circle cx="1115" cy="425" r="9"/><text x="1115" y="430">SVK</text></g>
<g id="r-svn" class="rs"><circle cx="1069" cy="432" r="9"/><text x="1069" y="437">SVN</text></g>
<g id="r-aut" class="rs"><circle cx="863" cy="445" r="9"/><text x="863" y="450">AUT</text></g>
<g id="r-lux" class="rs"><circle cx="910" cy="450" r="9"/><text x="910" y="455">LUX</text></g>
<g id="r-nor" class="rs"><circle cx="955" cy="445" r="9"/><text x="955" y="450">NOR</text></g>
<g id="r-deu" class="rm"><circle cx="1015" cy="450" r="12.5" stroke-width="2"/><text x="1015" y="455">DEU</text></g>
<g id="r-che" class="rs"><circle cx="974" cy="488" r="9"/><text x="974" y="493">CHE</text></g>
<g id="r-hun" class="rs"><circle cx="1141" cy="469" r="9"/><text x="1141" y="474">HUN</text></g>
<g id="r-kor" class="rm"><circle cx="1077" cy="496" r="12.5" stroke-width="2"/><text x="1077" y="501">KOR</text></g>
<g id="r-row"><circle cx="1027" cy="120" r="40" fill="#0a5990" stroke="#0a2a43" stroke-width="7"/><text x="1027" y="125">RO<tspan fill="#3a6aa8">W</tspan></text></g>
</g>
</svg>
